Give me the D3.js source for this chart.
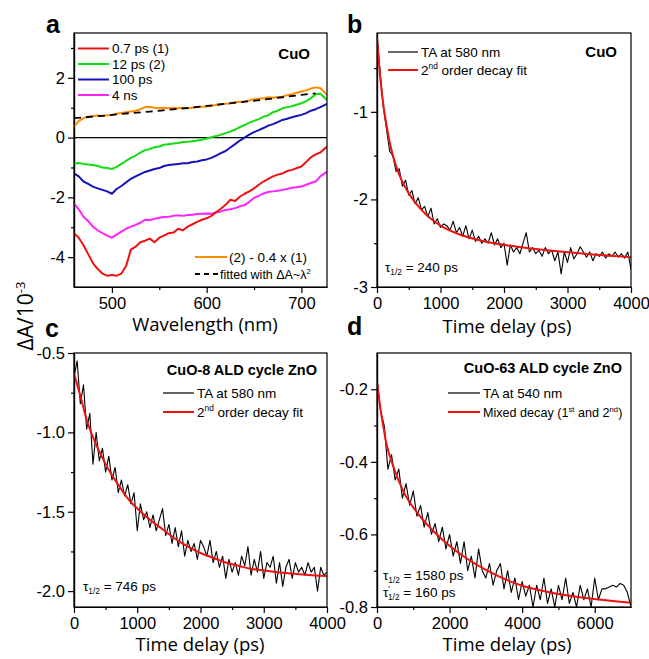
<!DOCTYPE html>
<html lang="en">
<head>
<meta charset="UTF-8">
<title>CuO transient absorption</title>
<script src="https://d3js.org/d3.v7.min.js"></script>
<style>
  body { margin: 0; background: #fff; }
  svg { display: block; font-family: "Liberation Sans", Arial, sans-serif; }
</style>
</head>
<body>
<svg width="649" height="659"></svg>
<script>
// ---- panel a: spectra ----
const wavelength = [460,465,470,475,480,485,490,495,500,505,510,515,520,525,530,535,540,545,550,555,
  560,565,570,575,580,585,590,595,600,605,610,615,620,625,630,635,640,645,650,655,
  660,665,670,675,680,685,690,695,700,705,710,715,720,727];
const spec07ps = [-3.2,-3.35,-3.6,-3.9,-4.2,-4.4,-4.55,-4.62,-4.6,-4.62,-4.55,-4.3,-3.75,-3.65,-3.5,-3.45,-3.38,-3.5,-3.35,-3.28,
  -3.2,-3.18,-3.05,-3.1,-2.98,-2.9,-2.82,-2.75,-2.7,-2.62,-2.5,-2.38,-2.25,-2.08,-2.12,-1.98,-1.88,-1.8,-1.7,-1.58,
  -1.47,-1.38,-1.3,-1.24,-1.2,-1.12,-1.08,-1.02,-0.97,-0.82,-0.66,-0.56,-0.5,-0.3];
const spec12ps = [-0.88,-0.85,-0.88,-0.9,-0.92,-0.95,-1.0,-1.02,-1.05,-0.98,-0.88,-0.78,-0.68,-0.6,-0.5,-0.42,-0.38,-0.32,-0.3,-0.24,
  -0.22,-0.2,-0.18,-0.15,-0.14,-0.12,-0.1,-0.07,-0.03,0.01,0.05,0.1,0.15,0.2,0.27,0.35,0.42,0.5,0.56,0.62,
  0.7,0.75,0.85,0.9,0.98,1.02,1.05,1.1,1.15,1.22,1.32,1.45,1.47,1.26];
const spec100ps = [-1.2,-1.3,-1.47,-1.55,-1.64,-1.7,-1.75,-1.8,-1.88,-1.72,-1.62,-1.5,-1.38,-1.3,-1.22,-1.15,-1.1,-1.05,-1.02,-0.95,
  -0.92,-0.9,-0.88,-0.86,-0.86,-0.82,-0.8,-0.76,-0.73,-0.68,-0.6,-0.52,-0.45,-0.33,-0.22,-0.1,0.0,0.1,0.18,0.25,
  0.32,0.4,0.45,0.52,0.59,0.63,0.68,0.72,0.76,0.82,0.9,0.95,1.02,1.13];
const spec4ns = [-2.2,-2.4,-2.65,-2.8,-2.98,-3.1,-3.2,-3.28,-3.35,-3.25,-3.15,-3.05,-2.98,-2.92,-2.85,-2.75,-2.76,-2.72,-2.68,-2.66,
  -2.65,-2.62,-2.6,-2.62,-2.59,-2.58,-2.56,-2.55,-2.54,-2.55,-2.5,-2.47,-2.42,-2.4,-2.36,-2.3,-2.26,-2.15,-2.02,-1.95,
  -1.87,-1.82,-1.8,-1.78,-1.75,-1.72,-1.68,-1.66,-1.64,-1.58,-1.52,-1.47,-1.3,-1.14];
const specDiff = [0.37,0.55,0.65,0.7,0.72,0.74,0.72,0.75,0.76,0.8,0.82,0.85,0.87,0.9,0.95,1.02,1.02,1.0,0.98,1.0,
  0.98,1.0,0.98,1.0,0.98,1.0,1.02,1.03,1.04,1.06,1.1,1.12,1.13,1.15,1.18,1.2,1.21,1.24,1.28,1.3,
  1.32,1.35,1.33,1.36,1.37,1.42,1.45,1.5,1.54,1.58,1.64,1.68,1.66,1.43];
const fitWavelength = [460,480,500,520,540,560,580,600,620,640,660,680,700,715];
const fitLambda2 = [0.65,0.7,0.76,0.82,0.87,0.93,0.99,1.06,1.13,1.2,1.27,1.35,1.43,1.48];

// ---- panel b: CuO kinetics at 580 nm (50 ps step) ----
const stepCuO = 50;
const taCuO = [-0.12,-0.55,-0.95,-1.2,-1.45,-1.5,-1.68,-1.65,-1.85,-1.78,-1.95,-1.9,-2.05,-1.98,-2.12,-2.08,-2.2,-2.1,-2.28,-2.22,
  -2.32,-2.28,-2.3,-2.35,-2.25,-2.38,-2.32,-2.42,-2.3,-2.45,-2.35,-2.48,-2.42,-2.5,-2.45,-2.5,-2.38,-2.52,-2.45,-2.55,
  -2.5,-2.75,-2.52,-2.6,-2.55,-2.62,-2.5,-2.38,-2.6,-2.55,-2.62,-2.58,-2.65,-2.55,-2.62,-2.58,-2.7,-2.6,-2.85,-2.6,
  -2.72,-2.55,-2.68,-2.62,-2.54,-2.6,-2.66,-2.6,-2.7,-2.62,-2.65,-2.6,-2.67,-2.62,-2.65,-2.6,-2.66,-2.62,-2.67,-2.6,-2.8];
const fitCuOTime = [0,25,50,100,150,200,300,400,500,700,1000,1300,1700,2200,2800,3400,4000];
const fitCuO = [-0.15,-0.4,-0.6,-0.92,-1.15,-1.35,-1.62,-1.8,-1.93,-2.12,-2.3,-2.4,-2.48,-2.54,-2.59,-2.63,-2.66];

// ---- panel c: CuO-8 ALD ZnO at 580 nm (50 ps step) ----
const stepZnO8 = 50;
const taZnO8 = [-0.65,-0.55,-0.82,-0.7,-0.98,-0.88,-1.2,-1.0,-1.18,-1.1,-1.25,-1.15,-1.3,-1.22,-1.38,-1.3,-1.4,-1.33,-1.45,-1.38,
  -1.62,-1.45,-1.55,-1.5,-1.6,-1.52,-1.62,-1.55,-1.48,-1.65,-1.58,-1.7,-1.6,-1.72,-1.62,-1.78,-1.68,-1.75,-1.7,-1.8,
  -1.68,-1.72,-1.78,-1.68,-1.82,-1.75,-1.85,-1.78,-1.92,-1.8,-1.88,-1.82,-1.9,-1.78,-1.84,-1.72,-1.9,-1.8,-1.88,-1.75,
  -1.92,-1.82,-1.85,-1.78,-1.95,-1.82,-1.97,-1.85,-1.8,-1.92,-1.82,-1.88,-1.85,-1.9,-1.82,-1.88,-1.85,-2.0,-1.85,-1.9,-1.88];
const fitZnO8Time = [0,100,200,300,400,500,600,700,800,900,1000,1200,1400,1600,1800,2000,2200,2400,2600,2800,3000,3300,3600,4000];
const fitZnO8 = [-0.63,-0.77,-0.92,-1.03,-1.12,-1.2,-1.27,-1.33,-1.39,-1.44,-1.48,-1.55,-1.61,-1.67,-1.72,-1.76,-1.79,-1.82,-1.84,-1.86,-1.87,-1.885,-1.895,-1.905];

// ---- panel d: CuO-63 ALD ZnO at 540 nm (100 ps step) ----
const stepZnO63 = 100;
const taZnO63 = [-0.17,-0.26,-0.3,-0.42,-0.38,-0.45,-0.42,-0.5,-0.46,-0.52,-0.48,-0.55,-0.52,-0.58,-0.54,-0.6,-0.57,-0.62,-0.58,-0.64,
  -0.6,-0.66,-0.62,-0.68,-0.62,-0.7,-0.66,-0.72,-0.64,-0.7,-0.72,-0.68,-0.74,-0.7,-0.68,-0.75,-0.7,-0.76,-0.72,-0.78,
  -0.73,-0.77,-0.74,-0.8,-0.74,-0.78,-0.72,-0.79,-0.75,-0.8,-0.74,-0.78,-0.72,-0.79,-0.76,-0.8,-0.74,-0.78,-0.75,-0.8,
  -0.72,-0.78,-0.75,-0.75,-0.745,-0.74,-0.745,-0.735,-0.74,-0.76,-0.8];
const fitZnO63Time = [0,75,170,260,440,720,1190,1650,2110,3040,3960,4890,5820,7000];
const fitZnO63 = [-0.18,-0.24,-0.3,-0.35,-0.41,-0.48,-0.55,-0.6,-0.64,-0.7,-0.74,-0.762,-0.776,-0.788];

const RED = "#ee1111", GREEN = "#11dd11", BLUE = "#1414b8", MAGENTA = "#ff22ff", ORANGE = "#ff8c00";
const ARIAL = "'Liberation Sans', Arial, sans-serif";
const TITLE_FONT = "'Open Sans', 'DejaVu Sans', sans-serif";

const svg = d3.select("svg");

function makePanel(p) {
  const x = d3.scaleLinear().domain(p.xDomain).range([p.left, p.right]);
  const y = d3.scaleLinear().domain(p.yDomain).range([p.bottom, p.top]);
  const g = svg.append("g");

  svg.append("clipPath").attr("id", "clip-" + p.id)
    .append("rect")
    .attr("x", p.left).attr("y", p.top)
    .attr("width", p.right - p.left).attr("height", p.bottom - p.top);

  const fmt = p.yFormat || (d => String(d));
  g.append("g").attr("transform", `translate(0,${p.bottom})`)
    .call(d3.axisBottom(x).tickValues(p.xMinor).tickSize(3).tickSizeOuter(0).tickFormat(""));
  g.append("g").attr("transform", `translate(${p.left},0)`)
    .call(d3.axisLeft(y).tickValues(p.yMinor).tickSize(3).tickSizeOuter(0).tickFormat(""));
  g.append("g").attr("transform", `translate(0,${p.bottom})`)
    .call(d3.axisBottom(x).tickValues(p.xTicks).tickSize(6).tickSizeOuter(0).tickPadding(4).tickFormat(d => String(d)));
  g.append("g").attr("transform", `translate(${p.left},0)`)
    .call(d3.axisLeft(y).tickValues(p.yTicks).tickSize(6).tickSizeOuter(0).tickPadding(3).tickFormat(fmt));

  g.selectAll("g").attr("font-family", ARIAL);
  g.selectAll(".tick text").attr("font-size", 16.5).attr("fill", "#000");
  g.selectAll(".tick line, .domain").attr("stroke", "#000").attr("stroke-width", 1.2);

  const plot = g.append("g").attr("clip-path", `url(#clip-${p.id})`);

  g.append("rect")
    .attr("x", p.left).attr("y", p.top)
    .attr("width", p.right - p.left).attr("height", p.bottom - p.top)
    .attr("fill", "none").attr("stroke", "#000").attr("stroke-width", 1.2);

  return { x, y, plot, g };
}

function drawLine(panel, pts, color, width, dash, curve) {
  const line = d3.line()
    .x(d => panel.x(d[0]))
    .y(d => panel.y(d[1]))
    .curve(curve || d3.curveLinear);
  panel.plot.append("path")
    .attr("d", line(pts))
    .attr("fill", "none")
    .attr("stroke", color)
    .attr("stroke-width", width)
    .attr("stroke-linejoin", "round")
    .attr("stroke-dasharray", dash || null);
}

// text with super/subscripts: parts = [[text, "sup"|"sub"|undefined, dx], ...]
function richText(x, y, parts, size, opts = {}) {
  const t = svg.append("text")
    .attr("x", x).attr("y", y)
    .attr("font-size", size)
    .attr("font-family", opts.family || ARIAL)
    .attr("font-weight", opts.weight || "normal")
    .attr("text-anchor", opts.anchor || "start")
    .attr("fill", "#000");
  if (opts.transform) t.attr("transform", opts.transform);
  let shift = 0;
  parts.forEach(([s, kind, dx]) => {
    const target = kind === "sup" ? -size * 0.38 : kind === "sub" ? size * 0.25 : 0;
    const ts = t.append("tspan")
      .attr("dy", target - shift)
      .attr("font-size", kind ? size * 0.62 : size)
      .text(s);
    if (dx) ts.attr("dx", dx);
    shift = target;
  });
  return t;
}

function legendLine(x1, x2, y, color, width, dash) {
  svg.append("line")
    .attr("x1", x1).attr("x2", x2).attr("y1", y).attr("y2", y)
    .attr("stroke", color).attr("stroke-width", width)
    .attr("stroke-dasharray", dash || null);
}

// ---------- panel a ----------
const pa = makePanel({
  id: "a", left: 74, right: 327, top: 33, bottom: 287,
  xDomain: [460, 727], yDomain: [-5, 3.5],
  xTicks: [500, 600, 700], xMinor: [550, 650],
  yTicks: [-4, -2, 0, 2], yMinor: [-3, -1, 1, 3]
});
pa.plot.append("line")
  .attr("x1", pa.x(460)).attr("x2", pa.x(727))
  .attr("y1", pa.y(0)).attr("y2", pa.y(0))
  .attr("stroke", "#000").attr("stroke-width", 1.2);
const zipW = vals => wavelength.map((w, i) => [w, vals[i]]);
drawLine(pa, zipW(spec4ns), MAGENTA, 2);
drawLine(pa, zipW(spec07ps), RED, 2);
drawLine(pa, zipW(spec100ps), BLUE, 2);
drawLine(pa, zipW(spec12ps), GREEN, 2);
drawLine(pa, zipW(specDiff), ORANGE, 2);
drawLine(pa, fitWavelength.map((w, i) => [w, fitLambda2[i]]), "#000", 1.8, "7,5", d3.curveMonotoneX);

[["0.7 ps (1)", RED], ["12 ps (2)", GREEN], ["100 ps", BLUE], ["4 ns", MAGENTA]].forEach(([label, c], i) => {
  const ly = 48.5 + i * 15.5;
  legendLine(78, 109, ly, c, 2);
  richText(112, ly + 4.5, [[label]], 13.5);
});
legendLine(195, 227, 257, ORANGE, 2);
richText(229, 261.5, [["(2) - 0.4 x (1)"]], 13.5);
legendLine(195, 219, 274, "#000", 1.8, "5,4");
richText(220, 278.5, [["fitted with \u0394A~\u03bb"], ["2", "sup"]], 12.5);
richText(310, 59, [["CuO"]], 15, { weight: "bold", anchor: "end" });

// ---------- panel b ----------
const pb = makePanel({
  id: "b", left: 377, right: 631, top: 33, bottom: 287,
  xDomain: [0, 4000], yDomain: [-3, -0.1],
  xTicks: [0, 1000, 2000, 3000, 4000], xMinor: [500, 1500, 2500, 3500],
  yTicks: [-1, -2, -3], yMinor: [-0.5, -1.5, -2.5]
});
drawLine(pb, taCuO.map((v, i) => [i * stepCuO, v]), "#000", 1.1);
drawLine(pb, fitCuOTime.map((t, i) => [t, fitCuO[i]]), RED, 2, null, d3.curveMonotoneX);
legendLine(388, 418, 52, "#000", 1.2);
richText(421, 56.5, [["TA at 580 nm"]], 13.5);
legendLine(388, 418, 70, RED, 2);
richText(421, 74.5, [["2"], ["nd", "sup"], [" order decay fit"]], 13.5);
richText(617, 57, [["CuO"]], 15, { weight: "bold", anchor: "end" });
richText(385, 272, [["\u03c4"], ["1/2", "sub"], [" = 240 ps"]], 13.5);

// ---------- panel c ----------
const pc = makePanel({
  id: "c", left: 74, right: 327, top: 353, bottom: 607,
  xDomain: [0, 4000], yDomain: [-2.1, -0.5],
  xTicks: [0, 1000, 2000, 3000, 4000], xMinor: [500, 1500, 2500, 3500],
  yTicks: [-0.5, -1.0, -1.5, -2.0], yMinor: [-0.75, -1.25, -1.75],
  yFormat: d => d.toFixed(1)
});
drawLine(pc, taZnO8.map((v, i) => [i * stepZnO8, v]), "#000", 1.1);
drawLine(pc, fitZnO8Time.map((t, i) => [t, fitZnO8[i]]), RED, 2, null, d3.curveMonotoneX);
richText(317, 375, [["CuO-8 ALD cycle ZnO"]], 14.5, { weight: "bold", anchor: "end" });
legendLine(163, 194, 393, "#000", 1.2);
richText(197, 397.5, [["TA at 580 nm"]], 13.5);
legendLine(163, 194, 412, RED, 2);
richText(197, 416.5, [["2"], ["nd", "sup"], [" order decay fit"]], 13.5);
richText(83, 591, [["\u03c4"], ["1/2", "sub"], [" = 746 ps"]], 13.5);

// ---------- panel d ----------
const pd = makePanel({
  id: "d", left: 377, right: 631, top: 353, bottom: 607,
  xDomain: [0, 7000], yDomain: [-0.8, -0.1],
  xTicks: [0, 2000, 4000, 6000], xMinor: [1000, 3000, 5000],
  yTicks: [-0.2, -0.4, -0.6, -0.8], yMinor: [-0.3, -0.5, -0.7],
  yFormat: d => d.toFixed(1)
});
drawLine(pd, taZnO63.map((v, i) => [i * stepZnO63, v]), "#000", 1.1);
drawLine(pd, fitZnO63Time.map((t, i) => [t, fitZnO63[i]]), RED, 2, null, d3.curveMonotoneX);
richText(622, 373, [["CuO-63 ALD cycle ZnO"]], 14.5, { weight: "bold", anchor: "end" });
legendLine(448, 480, 393, "#000", 1.2);
richText(483, 397.5, [["TA at 540 nm"]], 13.5);
legendLine(448, 480, 412, RED, 2);
richText(483, 416.5, [["Mixed decay (1"], ["st", "sup"], [" and 2"], ["nd", "sup"], [")"]], 12.6);
richText(383, 580, [["\u03c4"], ["1/2", "sub"], [" = 1580 ps"]], 13.5);
// primed tau: prime raised over the subscript
richText(383, 597, [["\u03c4"], ["'", "sup", 0], ["1/2", "sub", -2], [" = 160 ps"]], 13.5);

// ---------- shared labels ----------
richText(205, 331, [["Wavelength (nm)"]], 18.5, { family: TITLE_FONT, anchor: "middle" });
richText(507, 333, [["Time delay (ps)"]], 18.5, { family: TITLE_FONT, anchor: "middle" });
richText(200, 651, [["Time delay (ps)"]], 18.5, { family: TITLE_FONT, anchor: "middle" });
richText(507, 651, [["Time delay (ps)"]], 18.5, { family: TITLE_FONT, anchor: "middle" });
richText(0, 0, [["\u0394A/10"], ["-3", "sup"]], 21,
  { family: TITLE_FONT, anchor: "middle", transform: "translate(33,316) rotate(-90)" });

[["a", 46, 33], ["b", 347, 33], ["c", 45, 337], ["d", 347, 335]].forEach(([s, lx, ly]) => {
  richText(lx, ly, [[s]], 25, { weight: "bold" });
});
</script>
</body>
</html>
